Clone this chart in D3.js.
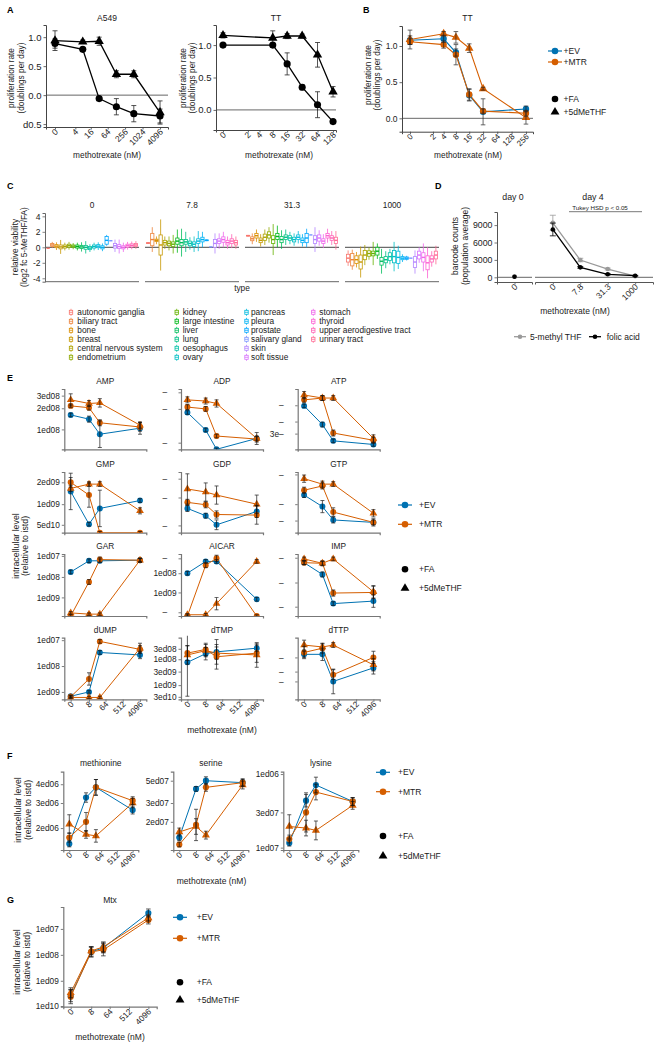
<!DOCTYPE html>
<html><head><meta charset="utf-8">
<script src="https://cdn.jsdelivr.net/npm/d3@7"></script>
<style>body{margin:0;background:#fff}svg{display:block}text{font-family:"Liberation Sans",Arial,Helvetica,sans-serif}</style>
</head><body><script>
// ---------------- DATA ----------------
// Panel A
const aA549X=[0,8,32,128,512,4096];
const aA549FA=[0.89,0.79,-0.06,-0.2,-0.32,-0.36];
const aA549FAerr=[0.08,0.02,0.03,0.14,0.14,0.12];
const aA549Me=[0.94,0.92,0.93,0.36,0.36,-0.3];
const aA549MeErr=[0.17,0.03,0.07,0.06,0.06,0.2];
const aA549Ticks=[0,4,16,64,256,1024,4096];
const aTTX=[0,8,16,32,64,128];
const aTTFA=[1.0,1.0,0.71,0.35,0.08,-0.18];
const aTTFAerr=[0.02,0.03,0.17,0.04,0.2,0.02];
const aTTMe=[1.15,1.11,1.14,1.14,0.85,0.28];
const aTTMeErr=[0.04,0.11,0.04,0.03,0.19,0.08];
const aTTTicks=[0,2,4,8,16,32,64,128];
const aYTicks=[1,0.5,0,-0.5];
const aYLabels=["1.0","0.5","0.0","d0.5"];
// Panel B
const bX=[0,4,8,16,32,256];
const bEV=[1.08,1.10,0.91,0.32,0.09,0.13];
const bEVerr=[0.06,0.05,0.05,0.08,0.18,0.04];
const bMTR=[1.06,1.02,0.88,0.33,0.10,0.07];
const bMTRerr=[0.04,0.05,0.14,0.08,0.03,0.04];
const bMTR5=[1.09,1.17,1.12,0.97,0.41,0.01];
const bMTR5err=[0.13,0.03,0.08,0.06,0.02,0.09];
const bTicks=[0,2,4,8,16,32,64,128,256];
// Panel C
const cFacets=["0","7.8","31.3","1000"];
const cTypes=["autonomic ganglia","biliary tract","bone","breast","central nervous system","endometrium","kidney","large intestine","liver","lung","oesophagus","ovary","pancreas","pleura","prostate","salivary gland","skin","soft tissue","stomach","thyroid","upper aerodigestive tract","urinary tract"];
const cMed=[
 [-0.13,0.3,0.15,0.05,0.1,0.2,0.15,0.1,0.05,0.0,-0.1,0.1,0.15,0.0,0.9,0.85,0.2,0.1,0.0,0.2,0.25,0.3],
 [0.55,1.0,0.9,0.3,0.6,0.5,0.4,0.8,0.6,0.7,0.5,0.4,0.8,1.0,0.9,0.05,0.5,0.8,1.0,0.6,0.8,0.6],
 [1.5,1.1,1.5,0.9,1.3,1.6,1.0,1.4,1.0,1.3,1.2,1.0,1.3,0.9,1.2,1.6,1.0,1.2,0.8,1.5,1.2,0.9],
 [-1.4,-1.6,-1.6,-1.9,-1.0,-0.8,-0.8,-0.5,-1.8,-1.6,-1.2,-1.2,-1.3,-1.4,-1.4,-1.4,-1.9,-1.0,-1.3,-2.0,-1.5,-1.0]];
const cBox=[
 [0,0.2,0.2,0.25,0.2,0.2,0.15,0.2,0.2,0.25,0.2,0.2,0.2,0.2,0.5,0,0.3,0.25,0.2,0.2,0.2,0.2],
 [0.05,0.8,0.15,1.3,0.3,0.3,0.3,0.4,0.4,0.3,0.3,0.3,0.3,0.3,0.05,0,0.5,0.3,0.35,0.3,0.3,0.3],
 [0.05,0.25,0.3,0.3,0.4,0.4,0.5,0.4,0.4,0.3,0.3,0.3,0.3,0.3,0.6,0,0.5,0.4,0.3,0.3,0.3,0.4],
 [0.5,0.8,0.5,0.9,0.6,0.35,0.3,0.5,0.5,0.4,0.5,0.8,0.8,0.2,0.15,0,0.7,0.5,0.6,0.9,0.4,0.5]];
const cWhisk=[
 [0,0.4,0.5,0.9,0.5,0.5,0.4,0.5,0.6,0.8,0.5,0.5,0.5,0.5,0.7,0,0.8,0.9,0.6,0.5,0.5,0.5],
 [0.1,1.6,0.5,3.3,0.8,0.9,1.2,1.5,1.8,1.3,0.8,1.0,1.3,1.0,0.1,0,1.3,1.0,1.0,0.8,0.9,0.8],
 [0.1,0.7,0.8,0.8,1.0,1.0,2.0,1.4,1.2,1.0,0.8,0.8,0.8,0.8,1.2,0,1.6,1.0,0.9,0.9,0.9,1.2],
 [1.0,1.3,1.0,2.0,1.3,0.8,1.5,1.0,1.6,1.1,1.0,1.9,1.5,0.5,0.3,0,1.5,1.0,1.8,2.0,1.0,1.2]];
const cYTicks=[4,2,0,-2,-4];
// Panel D
const dDay4=["0","7.8","31.3","1000"];
const dFAday0=[100], dFA=[8250,1720,520,280], dFAerr=[1100,150,100,60];
const dMeday0=[120], dMe=[9400,2980,1430,200], dMeErr=[1300,300,150,60];
const dYTicks=[0,3000,6000,9000];
// Panel E (levels on the log axis, expressed as fraction of the panel height)
const eNames=["AMP","ADP","ATP","GMP","GDP","GTP","GAR","AICAR","IMP","dUMP","dTMP","dTTP"];
const eX=[0,8,32,4096];
const eEV=[[0.57,0.50,0.25,0.35],[0.61,0.32,0.0,0.18],[0.72,0.41,0.14,0.08],[0.68,0.14,0.40,0.53],[0.40,0.28,0.13,0.35],[0.62,0.43,0.21,0.17],[0.71,0.89,0.89,0.90],[0.69,0.88,0.88,0.27],[0.86,0.67,0.20,0.24],[0.05,0.12,0.76,0.72],[0.60,0.74,0.77,0.83],[0.73,0.73,0.29,0.51]];
const eMTR=[[0.72,0.69,0.44,0.37],[0.70,0.67,0.22,0.17],[0.82,0.85,0.27,0.15],[0.83,0.62,0.0,0.0],[0.50,0.46,0.30,0.29],[0.70,0.77,0.34,0.17],[0.0,0.55,0.91,0.90],[0.0,0.82,0.93,0.0],[0.86,0.85,0.37,0.38],[0.04,0.33,0.94,0.81],[0.75,0.81,0.69,0.75],[0.76,0.83,0.40,0.68]];
const eMTR5=[[0.82,0.76,0.77,0.40],[0.82,0.80,0.76,0.18],[0.90,0.85,0.85,0.18],[0.73,0.80,0.80,0.36],[0.72,0.67,0.62,0.47],[0.89,0.80,0.80,0.32],[0.05,0.03,0.03,0.90],[0.02,0.02,0.20,0.88],[0.92,0.85,0.92,0.39],[0.03,0.03,0.03,0.83],[0.72,0.79,0.75,0.72],[0.88,0.85,0.88,0.56]];
const eEVerr=[[0.03,0.05,0.22,0.1],[0.03,0.03,0.02,0.03],[0.03,0.04,0.03,0.03],[0.3,0.03,0.3,0.03],[0.05,0.04,0.08,0.1],[0.04,0.1,0.05,0.04],[0.03,0.03,0.03,0.03],[0.03,0.03,0.03,0.03],[0.03,0.04,0.03,0.1],[0.02,0.02,0.03,0.06],[0.55,0.1,0.2,0.05],[0.05,0.1,0.2,0.1]];
const eMTRerr=[[0.03,0.04,0.05,0.07],[0.04,0.04,0.03,0.05],[0.04,0.04,0.05,0.05],[0.08,0.2,0.02,0.02],[0.05,0.05,0.06,0.15],[0.05,0.05,0.07,0.06],[0.02,0.04,0.04,0.03],[0.02,0.04,0.05,0.02],[0.03,0.04,0.05,0.1],[0.02,0.1,0.03,0.06],[0.12,0.1,0.2,0.15],[0.1,0.08,0.08,0.1]];
const eMTR5err=[[0.1,0.05,0.07,0.05],[0.05,0.05,0.06,0.1],[0.06,0.04,0.04,0.06],[0.05,0.04,0.04,0.05],[0.25,0.15,0.15,0.15],[0.06,0.05,0.04,0.06],[0.02,0.02,0.02,0.03],[0.02,0.02,0.1,0.03],[0.03,0.03,0.03,0.1],[0.02,0.02,0.02,0.08],[0.15,0.1,0.1,0.2],[0.08,0.05,0.04,0.1]];
const eTickPos=[[0.89,0.68,0.33],[0.945,0.67,0.11],[0.73,0.46,0.26],[0.83,0.47,0.13],[0.89,0.58,0.12],[0.96,0.47,0.2],[0.97,0.63,0.30],[0.93,0.69,0.38,0.06],[0.94,0.54,0.15],[0.96,0.54,0.12],[0.82,0.65,0.45,0.23,0.04],[0.68,0.45,0.29]];
const eTickLab=[["3ed08","2ed08","1ed08"],["–","–","–"],["–","–","3e–"],["2ed09","1ed09","5ed10"],["–","–","–"],["–","–","–"],["1ed07","1ed08","1ed09"],["–","1ed08","1ed09","–"],["–","–","–"],["1ed07","1ed08","1ed09"],["3ed08","1ed08","3ed09","1ed09","3ed10"],["–","–","–"]];
const xTicksLog=[0,8,64,512,4096];
// Panel F
const fNames=["methionine","serine","lysine"];
const fEV=[[0.08,0.67,0.80,0.51],[0.16,0.78,0.885,0.86],[0.09,0.63,0.83,0.62]];
const fMTR=[[0.16,0.36,0.80,0.63],[0.07,0.32,0.80,0.86],[0.14,0.48,0.74,0.62]];
const fMTR5=[[0.33,0.20,0.18,0.60],[0.23,0.30,0.19,0.83],[0.30,0.28,0.25,0.57]];
const fEVerr=[[0.04,0.06,0.1,0.05],[0.04,0.03,0.05,0.04],[0.04,0.08,0.1,0.05]];
const fMTRerr=[[0.06,0.12,0.1,0.05],[0.03,0.2,0.05,0.05],[0.05,0.25,0.1,0.05]];
const fMTR5err=[[0.12,0.05,0.08,0.06],[0.05,0.1,0.05,0.05],[0.15,0.1,0.12,0.05]];
const fTickPos=[[0.84,0.60,0.28],[0.885,0.60,0.36],[0.97,0.48,0.03]];
const fTickLab=[["4ed06","3ed06","2ed06"],["5ed07","3ed07","2ed07"],["1ed06","3ed07","1ed07"]];
// Panel G
const gEV=[0.11,0.55,0.59,0.94], gEVerr=[0.06,0.05,0.05,0.04];
const gMTR=[0.10,0.55,0.57,0.87], gMTRerr=[0.07,0.05,0.06,0.04];
const gMTR5=[0.14,0.56,0.60,0.89], gMTR5err=[0.05,0.04,0.05,0.03];
const gTickPos=[0.78,0.52,0.26,0.007];
const gTickLab=["1ed07","1ed08","1ed09","1ed10"];

// ---------------- DRAWING ----------------
const BLUE="#0072B2", ORANGE="#D55E00";
const FONT='"Liberation Sans",Arial,Helvetica,sans-serif';
const svg=d3.select("body").append("svg").attr("width",659).attr("height",1050);
const pl=v=>Math.log2(v+1);
let clipId=0;

function hueLuv(h,c,l){
  const hr=h*Math.PI/180,u=c*Math.cos(hr),v=c*Math.sin(hr);
  const Xn=95.047,Yn=100,Zn=108.883,den=Xn+15*Yn+3*Zn,un=4*Xn/den,vn=9*Yn/den;
  const Y=l>8?Yn*Math.pow((l+16)/116,3):Yn*l/903.3;
  const up=u/(13*l)+un,vp=v/(13*l)+vn;
  const X=9*Y*up/(4*vp),Z=Y*(12-3*up-20*vp)/(4*vp);
  const x=X/100,y=Y/100,z=Z/100;
  const r=3.2404542*x-1.5371385*y-0.4985314*z,g=-0.9692660*x+1.8760108*y+0.0415560*z,b=0.0556434*x-0.2040259*y+1.0572252*z;
  const gm=t=>{t=Math.max(0,Math.min(1,t));return t<=0.0031308?12.92*t:1.055*Math.pow(t,1/2.4)-0.055;};
  return d3.rgb(gm(r)*255,gm(g)*255,gm(b)*255).formatHex();
}
const cPal=cTypes.map((t,i)=>hueLuv(15+i*360/cTypes.length,100,65));

function txt(x,y,t,fs,opt={}){
  const e=svg.append("text").attr("x",x).attr("y",y).attr("font-size",fs).attr("fill",opt.fill||"#1a1a1a").text(t);
  if(opt.anchor)e.attr("text-anchor",opt.anchor);
  if(opt.bold)e.attr("font-weight","bold");
  return e;
}
function panelLetter(x,y,t){txt(x,y,t,9,{bold:true,fill:"#000"});}
function yTitle(cx,cy,lines,fs,lh){
  const g=svg.append("g").attr("transform",`translate(${cx},${cy}) rotate(-90)`);
  lines.forEach((l,i)=>g.append("text").attr("x",0).attr("y",i*lh).attr("text-anchor","middle").attr("font-size",fs).attr("fill","#1a1a1a").text(l));
}
function styleAxis(sel,fs,col,w){
  sel.attr("font-family",FONT);
  sel.select(".domain").attr("stroke",col).attr("stroke-width",w);
  sel.selectAll(".tick line").attr("stroke",col).attr("stroke-width",w*0.8);
  sel.selectAll(".tick text").attr("font-size",fs).attr("fill","#222").attr("font-family",FONT);
}
function rotateX(sel,dx,dy){
  sel.selectAll(".tick text").attr("x",0).attr("y",0).attr("dy",0)
    .attr("transform",`translate(${dx},${dy}) rotate(-45)`).attr("text-anchor","end");
}
function sym(shape,size){return d3.symbol().type(shape==="tri"?d3.symbolTriangle:d3.symbolCircle).size(size)();}

function linePanel(o){
  const x=d3.scaleLinear().domain(o.xd).range([o.x0,o.x0+o.w]);
  const y=d3.scaleLinear().domain(o.yd).range([o.bot,o.top]);
  const g=svg.append("g");
  const axc=o.axc||"#555", axw=o.axw||1;
  if(o.zero!==undefined)g.append("line").attr("x1",o.x0).attr("x2",o.x0+o.w).attr("y1",y(o.zero)).attr("y2",y(o.zero)).attr("stroke","#555").attr("stroke-width",0.9);
  const ya=g.append("g").attr("transform",`translate(${o.x0},0)`)
    .call(d3.axisLeft(y).tickValues(o.yt).tickFormat((d,i)=>o.ytl[i]).tickSizeOuter(0).tickSize(2.5).tickPadding(2));
  styleAxis(ya,o.fsT,axc,axw);
  ya.selectAll(".tick text").filter(function(){return this.textContent.indexOf("–")>=0;}).attr("x",-14);
  const xa=g.append("g").attr("transform",`translate(0,${o.bot})`)
    .call(d3.axisBottom(x).tickValues(o.xt?o.xt.map(pl):[]).tickFormat((d,i)=>o.xt?String(o.xt[i]):"").tickSizeOuter(0).tickSize(2.5));
  styleAxis(xa,o.fsX||o.fsT,axc,axw);
  rotateX(xa,3,5.5);
  const id="clip"+(clipId++);
  svg.append("clipPath").attr("id",id).append("rect").attr("x",o.x0).attr("y",o.top-2).attr("width",o.w+4).attr("height",o.bot-o.top+2);
  const pg=g.append("g").attr("clip-path",`url(#${id})`);
  const ln=d3.line().x(d=>x(pl(d[0]))).y(d=>y(d[1]));
  o.series.forEach(s=>pg.append("path").datum(s.xs.map((v,i)=>[v,s.ys[i]])).attr("d",ln).attr("fill","none").attr("stroke",s.color).attr("stroke-width",o.lw||1));
  o.series.forEach(s=>s.xs.forEach((v,i)=>pg.append("path").attr("d",sym(s.shape,s.shape==="tri"?o.tsz:o.csz)).attr("transform",`translate(${x(pl(v))},${y(s.ys[i])})`).attr("fill",s.color)));
  o.series.forEach(s=>s.xs.forEach((v,i)=>{
    const e=s.err[i],cx=x(pl(v)),y1=y(s.ys[i]-e),y2=y(s.ys[i]+e),cw=o.cap||2.2;
    const eg=pg.append("g").attr("stroke",o.ec||"#111").attr("stroke-width",0.8).attr("opacity",0.85);
    eg.append("line").attr("x1",cx).attr("x2",cx).attr("y1",y1).attr("y2",y2);
    eg.append("line").attr("x1",cx-cw).attr("x2",cx+cw).attr("y1",y1).attr("y2",y1);
    eg.append("line").attr("x1",cx-cw).attr("x2",cx+cw).attr("y1",y2).attr("y2",y2);
  }));
  if(o.title)txt(o.x0+o.w/2,o.titleY,o.title,o.fsTitle||8,{anchor:"middle",fill:"#222"});
}

function legendColor(kx,tx,ys,fs,r){
  [[BLUE,"+EV"],[ORANGE,"+MTR"]].forEach(([c,t],i)=>{
    svg.append("line").attr("x1",kx-7).attr("x2",kx+7).attr("y1",ys[i]).attr("y2",ys[i]).attr("stroke",c).attr("stroke-width",1.2);
    svg.append("path").attr("d",sym("circle",r)).attr("transform",`translate(${kx},${ys[i]})`).attr("fill",c);
    txt(tx,ys[i]+fs*0.36,t,fs);
  });
}
function legendShape(kx,tx,ys,fs,r,tr){
  [["circle","+FA",r],["tri","+5dMeTHF",tr]].forEach(([s,t,sz],i)=>{
    svg.append("path").attr("d",sym(s,sz)).attr("transform",`translate(${kx},${ys[i]})`).attr("fill","#000");
    txt(tx,ys[i]+fs*0.36,t,fs);
  });
}

// ===== Panel A =====
panelLetter(7,13,"A");
linePanel({x0:46,w:122,top:25,bot:127,xd:[-1.03,12.91],yd:[-0.55,1.21],xt:aA549Ticks,yt:aYTicks,ytl:aYLabels,
  zero:0,fsT:9.5,fsX:8.5,csz:40,tsz:38,lw:1.3,cap:2.5,ec:"#000",axc:"#444",
  series:[{xs:aA549X,ys:aA549FA,err:aA549FAerr,color:"#000",shape:"circle"},{xs:aA549X,ys:aA549Me,err:aA549MeErr,color:"#000",shape:"tri"}],
  title:"A549",titleY:20.5,fsTitle:8.5});
linePanel({x0:216,w:120,top:25,bot:130,xd:[-0.446,7.2],yd:[-0.31,1.31],xt:aTTTicks,yt:[1,0.5,0],ytl:["1.0","0.5","0.0"],
  zero:0,fsT:9.5,fsX:8.5,csz:40,tsz:38,lw:1.3,cap:2.5,ec:"#000",axc:"#444",
  series:[{xs:aTTX,ys:aTTFA,err:aTTFAerr,color:"#000",shape:"circle"},{xs:aTTX,ys:aTTMe,err:aTTMeErr,color:"#000",shape:"tri"}],
  title:"TT",titleY:20.5,fsTitle:8.5});
yTitle(14,78,["proliferation rate","(doublings per day)"],8.3,9.6);
yTitle(185.5,78,["proliferation rate","(doublings per day)"],8.3,9.6);
txt(107,158,"methotrexate (nM)",8.3,{anchor:"middle"});
txt(279,158,"methotrexate (nM)",8.3,{anchor:"middle"});

// ===== Panel B =====
panelLetter(363,13,"B");
linePanel({x0:402,w:131,top:26,bot:131.7,xd:[-0.552,8.49],yd:[-0.185,1.277],xt:bTicks,yt:[1,0.5,0],ytl:["1.0","0.5","0.0"],
  zero:0,fsT:8.5,fsX:8,csz:32,tsz:32,lw:1.1,cap:2.3,ec:"#222",axc:"#444",
  series:[{xs:bX,ys:bEV,err:bEVerr,color:BLUE,shape:"circle"},{xs:bX,ys:bMTR,err:bMTRerr,color:ORANGE,shape:"circle"},{xs:bX,ys:bMTR5,err:bMTR5err,color:ORANGE,shape:"tri"}],
  title:"TT",titleY:20.5,fsTitle:8.5});
yTitle(371,75,["proliferation rate","(doublings per day)"],8.3,9.3);
txt(468,158,"methotrexate (nM)",8.3,{anchor:"middle"});
legendColor(555,563.5,[51,62],8.5,34);
legendShape(555,563.5,[99,112],8.5,34,34);

// ===== Panel C =====
panelLetter(7,188.5,"C");
{
  const cy=d3.scaleLinear().domain([-4.44,4.43]).range([281.7,213]);
  cFacets.forEach((f,fi)=>{
    const fx=45+fi*100,fw=94;
    const bx=d3.scaleBand().domain(cTypes).range([fx,fx+fw]).paddingInner(0.22).paddingOuter(0.35);
    svg.append("line").attr("x1",fx).attr("x2",fx+fw).attr("y1",cy(0)).attr("y2",cy(0)).attr("stroke","#333").attr("stroke-width",0.9);
    svg.append("line").attr("x1",fx).attr("x2",fx+fw).attr("y1",281.7).attr("y2",281.7).attr("stroke","#666").attr("stroke-width",1);
    cTypes.forEach((t,i)=>{
      const m=cMed[fi][i],b=cBox[fi][i],w=cWhisk[fi][i],col=cPal[i],bw=bx.bandwidth(),cx=bx(t)+bw/2;
      if(w>0)svg.append("line").attr("x1",cx).attr("x2",cx).attr("y1",cy(m-w)).attr("y2",cy(m+w)).attr("stroke",col).attr("stroke-width",0.8);
      if(b>0)svg.append("rect").attr("x",bx(t)).attr("width",bw).attr("y",cy(m+b)).attr("height",cy(m-b)-cy(m+b)).attr("fill","#fff").attr("stroke",col).attr("stroke-width",0.8);
      svg.append("line").attr("x1",bx(t)).attr("x2",bx(t)+bw).attr("y1",cy(m)).attr("y2",cy(m)).attr("stroke",col).attr("stroke-width",1.4);
    });
    txt(fx+fw/2,207.7,f,8.3,{anchor:"middle",fill:"#222"});
  });
  const ya=svg.append("g").attr("transform","translate(45,0)").call(d3.axisLeft(cy).tickValues(cYTicks).tickFormat(d=>String(d)).tickSizeOuter(0).tickSize(2.5).tickPadding(2));
  styleAxis(ya,8.5,"#666",1);
  yTitle(17.5,247,["relative viability","(log2 fc 5-MeTHF/FA)"],8.3,9.3);
  txt(242,290.5,"type",8.3,{anchor:"middle"});
  const colX=[71,176.7,246.5,313.3], colT=[77.3,182.7,251,319.3];
  cTypes.forEach((t,i)=>{
    const c=Math.floor(i/6),r=i%6,ky=312.3+r*9,kx=colX[c];
    svg.append("line").attr("x1",kx).attr("x2",kx).attr("y1",ky-3.5).attr("y2",ky+3.5).attr("stroke",cPal[i]).attr("stroke-width",0.8);
    svg.append("rect").attr("x",kx-1.7).attr("y",ky-2).attr("width",3.4).attr("height",4).attr("fill","#fff").attr("stroke",cPal[i]).attr("stroke-width",0.8);
    svg.append("line").attr("x1",kx-1.7).attr("x2",kx+1.7).attr("y1",ky).attr("y2",ky).attr("stroke",cPal[i]).attr("stroke-width",0.8);
    txt(colT[c],ky+3,t,8.3);
  });
}

// ===== Panel D =====
panelLetter(435,188.5,"D");
{
  const dy=d3.scaleLinear().domain([-810,11260]).range([282,212]);
  const x0=d3.scalePoint().domain(["0"]).range([497,532]).padding(0.5);
  const x1=d3.scalePoint().domain(dDay4).range([535,653]).padding(0.65);
  [[497,532],[535,653]].forEach(([a,b])=>{
    svg.append("line").attr("x1",a).attr("x2",b).attr("y1",dy(0)).attr("y2",dy(0)).attr("stroke","#555").attr("stroke-width",0.9);
  });
  const ya=svg.append("g").attr("transform","translate(497,0)").call(d3.axisLeft(dy).tickValues(dYTicks).tickFormat(d=>String(d)).tickSizeOuter(0).tickSize(2.5).tickPadding(2));
  styleAxis(ya,8.8,"#555",1);
  [[x0,["0"]],[x1,dDay4]].forEach(([sc,dom])=>{
    const xa=svg.append("g").attr("transform","translate(0,282)").call(d3.axisBottom(sc).tickSizeOuter(0).tickSize(2.5));
    styleAxis(xa,8.5,"#555",1); rotateX(xa,3,5.5);
  });
  const series=[[dMeday0,dMe,dMeErr,"#9a9a9a"],[dFAday0,dFA,dFAerr,"#000"]];
  series.forEach(([d0,d4,er,c])=>{
    svg.append("path").datum(d4).attr("d",d3.line().x((d,i)=>x1(dDay4[i])).y(d=>dy(d))).attr("fill","none").attr("stroke",c).attr("stroke-width",1.3);
    d4.forEach((v,i)=>{
      const cx=x1(dDay4[i]);
      svg.append("line").attr("x1",cx).attr("x2",cx).attr("y1",dy(v-er[i])).attr("y2",dy(v+er[i])).attr("stroke",c).attr("stroke-width",0.8);
      [v-er[i],v+er[i]].forEach(e=>svg.append("line").attr("x1",cx-3).attr("x2",cx+3).attr("y1",dy(e)).attr("y2",dy(e)).attr("stroke",c).attr("stroke-width",0.8));
      svg.append("circle").attr("cx",cx).attr("cy",dy(v)).attr("r",2.3).attr("fill",c);
    });
    svg.append("circle").attr("cx",x0("0")).attr("cy",dy(d0[0])).attr("r",2.3).attr("fill",c);
  });
  txt(513,200,"day 0",8.8,{anchor:"middle",fill:"#222"});
  txt(593,200,"day 4",8.8,{anchor:"middle",fill:"#222"});
  txt(600,209.5,"Tukey HSD p < 0.05",6.2,{anchor:"middle",fill:"#222"});
  svg.append("line").attr("x1",569).attr("x2",642).attr("y1",211.7).attr("y2",211.7).attr("stroke","#555").attr("stroke-width",0.8);
  yTitle(458,246,["barcode counts","(population average)"],8.5,9.5);
  txt(575,314,"methotrexate (nM)",8.5,{anchor:"middle"});
  [["#9a9a9a",520,530,"5-methyl THF"],["#000",595,606.7,"folic acid"]].forEach(([c,kx,tx,t])=>{
    svg.append("line").attr("x1",kx-6).attr("x2",kx+6).attr("y1",336.7).attr("y2",336.7).attr("stroke",c).attr("stroke-width",1.3);
    svg.append("circle").attr("cx",kx).attr("cy",336.7).attr("r",2.3).attr("fill",c);
    txt(tx,339.8,t,8.5);
  });
}

// ===== Panel E =====
panelLetter(7,381,"E");
{
  const colX=[64.3,181,297.7], rows=[[389,449.3],[472,532.7],[554,616],[637.7,699.3]];
  eNames.forEach((nm,i)=>{
    const c=i%3,r=Math.floor(i/3);
    linePanel({x0:colX[c],w:82,top:rows[r][0],bot:rows[r][1],xd:[-1.108,13.09],yd:[0,1],xt:r===3?xTicksLog:null,
      yt:eTickPos[i],ytl:eTickLab[i],fsT:8.3,fsX:8.3,csz:28,tsz:26,lw:1,cap:2,ec:"#111",axc:"#777",axw:1.2,
      series:[{xs:eX,ys:eEV[i],err:eEVerr[i],color:BLUE,shape:"circle"},{xs:eX,ys:eMTR[i],err:eMTRerr[i],color:ORANGE,shape:"circle"},{xs:eX,ys:eMTR5[i],err:eMTR5err[i],color:ORANGE,shape:"tri"}],
      title:nm,titleY:rows[r][0]-5,fsTitle:8.3});
  });
  yTitle(18.5,546,["intracellular level","(relative to istd)"],8.8,9.8);
  txt(222,733,"methotrexate (nM)",8.5,{anchor:"middle"});
  legendColor(405,419,[505,524.3],8.5,34);
  legendShape(405,419,[569.3,588.3],8.5,34,34);
}

// ===== Panel F =====
panelLetter(7,759,"F");
{
  const colX=[63.3,173.3,283.3];
  fNames.forEach((nm,i)=>{
    linePanel({x0:colX[i],w:75,top:771.7,bot:850,xd:[-1.136,13.07],yd:[0,1],xt:xTicksLog,
      yt:fTickPos[i],ytl:fTickLab[i],fsT:8.3,fsX:8.3,csz:30,tsz:28,lw:1,cap:2,ec:"#111",axc:"#777",axw:1.2,
      series:[{xs:eX,ys:fEV[i],err:fEVerr[i],color:BLUE,shape:"circle"},{xs:eX,ys:fMTR[i],err:fMTRerr[i],color:ORANGE,shape:"circle"},{xs:eX,ys:fMTR5[i],err:fMTR5err[i],color:ORANGE,shape:"tri"}],
      title:nm,titleY:766,fsTitle:8.5});
  });
  yTitle(21,810,["intracellular level","(relative to istd)"],8.8,9.8);
  txt(211.5,884,"methotrexate (nM)",8.5,{anchor:"middle"});
  legendColor(383,398,[772.3,791.7],8.5,34);
  legendShape(383,398,[836,856],8.5,34,34);
}

// ===== Panel G =====
panelLetter(7,903,"G");
linePanel({x0:63.3,w:93.4,top:907,bot:1006.7,xd:[-1.144,13.29],yd:[0,1],xt:xTicksLog,
  yt:gTickPos,ytl:gTickLab,fsT:8.3,fsX:8.3,csz:30,tsz:28,lw:1,cap:2.3,ec:"#111",axc:"#777",axw:1.2,
  series:[{xs:eX,ys:gEV,err:gEVerr,color:BLUE,shape:"circle"},{xs:eX,ys:gMTR,err:gMTRerr,color:ORANGE,shape:"circle"},{xs:eX,ys:gMTR5,err:gMTR5err,color:ORANGE,shape:"tri"}],
  title:"Mtx",titleY:903,fsTitle:8.5});
yTitle(20,962,["intracellular level","(relative to istd)"],8.8,10);
txt(110,1040,"methotrexate (nM)",8.5,{anchor:"middle"});
legendColor(180,196.7,[917.3,938.3],8.5,34);
legendShape(180,196.7,[982.3,1000],8.5,34,34);
</script></body></html>
